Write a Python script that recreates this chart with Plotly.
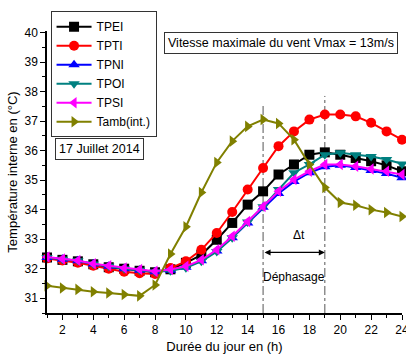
import plotly.graph_objects as go

hours = list(range(1, 25))

TPEI = [32.38, 32.30, 32.25, 32.15, 32.05, 32.00, 31.93, 31.88, 31.98, 32.20, 32.47, 32.98,
        33.55, 34.17, 34.62, 35.19, 35.53, 35.86, 35.94, 35.86, 35.75, 35.64, 35.50, 35.30]
TPTI = [32.35, 32.28, 32.20, 32.10, 32.00, 31.90, 31.85, 31.82, 32.02, 32.25, 32.64, 33.21,
        33.92, 34.68, 35.41, 36.15, 36.65, 37.05, 37.22, 37.22, 37.16, 36.94, 36.65, 36.37]
TPNI = [32.38, 32.32, 32.27, 32.16, 32.08, 32.00, 31.95, 31.90, 31.95, 32.05, 32.27, 32.60,
        33.05, 33.55, 34.08, 34.55, 34.95, 35.25, 35.45, 35.50, 35.43, 35.33, 35.22, 35.08]
TPOI = [32.38, 32.32, 32.27, 32.16, 32.08, 32.00, 31.95, 31.90, 31.93, 32.03, 32.25, 32.58,
        33.05, 33.58, 34.10, 34.68, 35.25, 35.53, 35.86, 35.93, 35.86, 35.80, 35.70, 35.55]
TPSI = [32.40, 32.33, 32.28, 32.17, 32.10, 32.02, 31.97, 31.91, 31.97, 32.08, 32.30, 32.64,
        33.10, 33.60, 34.11, 34.62, 35.02, 35.30, 35.53, 35.53, 35.47, 35.38, 35.30, 35.19]
Tamb = [31.42, 31.35, 31.30, 31.22, 31.18, 31.13, 31.08, 31.45, 32.50, 33.42, 34.58, 35.60,
        36.32, 36.82, 37.05, 36.92, 36.37, 35.53, 34.75, 34.24, 34.15, 34.00, 33.90, 33.77]

series = [
    ("TPEI", TPEI, "#000000", "square"),
    ("TPTI", TPTI, "#ff0000", "circle"),
    ("TPNI", TPNI, "#0000ff", "triangle-up"),
    ("TPOI", TPOI, "#008080", "triangle-down"),
    ("TPSI", TPSI, "#ff00ff", "triangle-left"),
    ("Tamb(int.)", Tamb, "#808000", "triangle-right"),
]

phase_start = 15
phase_end = 19

FONT = "Liberation Sans Narrow, Arial Narrow, Arial, Liberation Sans, sans-serif"

fig = go.Figure()
for name, vals, col, sym in series:
    fig.add_trace(go.Scatter(
        x=hours, y=vals, name=name, mode="lines+markers",
        line=dict(color=col, width=2),
        marker=dict(symbol=sym, size=10, color=col),
        cliponaxis=False,
    ))

for xv, ytop in [(phase_start, 37.6), (phase_end, 37.85)]:
    fig.add_shape(type="line", x0=xv, x1=xv, y0=30.5, y1=ytop, xref="x", yref="y",
                  line=dict(color="#555555", width=1, dash="dashdot"), layer="below")

fig.add_annotation(x=phase_end, y=32.55, ax=phase_start, ay=32.55, xref="x", yref="y",
                   axref="x", ayref="y", showarrow=True, arrowhead=2, arrowside="end+start",
                   arrowsize=1, arrowwidth=1.2, arrowcolor="#000000", text="")
fig.add_annotation(x=(phase_start + phase_end) / 2 + 0.3, y=33.15, text="Δt", showarrow=False,
                   font=dict(size=12, color="#000000"))
fig.add_annotation(x=(phase_start + phase_end) / 2, y=31.72, text="Déphasage", showarrow=False,
                   font=dict(size=12, color="#000000"))

fig.add_annotation(xref="paper", yref="paper", x=0.99, y=0.959, xanchor="right", yanchor="middle",
                   text="Vitesse maximale du vent Vmax = 13m/s", showarrow=False,
                   bordercolor="#333333", borderwidth=1, borderpad=3, bgcolor="white",
                   font=dict(size=12.5, color="#000000"))
fig.add_annotation(xref="paper", yref="paper", x=0.023, y=0.58, xanchor="left", yanchor="middle",
                   text="17 Juillet 2014", showarrow=False,
                   bordercolor="#333333", borderwidth=1, borderpad=3, bgcolor="white",
                   font=dict(size=12.5, color="#000000"))

fig.update_layout(
    width=406, height=356,
    margin=dict(l=47, r=4, t=31, b=43, autoexpand=False),
    paper_bgcolor="white", plot_bgcolor="white",
    font=dict(family=FONT, size=12, color="#000000"),
    showlegend=True,
    legend=dict(x=0.01, y=1.07, xanchor="left", yanchor="top",
                bordercolor="#333333", borderwidth=1, bgcolor="white",
                font=dict(size=12), itemwidth=35, tracegroupgap=0),
    xaxis=dict(range=[1, 24], tickvals=list(range(2, 25, 2)), showline=True, linecolor="black",
               linewidth=1.5, ticks="outside", ticklen=5, tickcolor="black", showgrid=False,
               zeroline=False, automargin=False, ticklabeloverflow="allow",
               minor=dict(tickvals=list(range(1, 25)), ticks="outside", ticklen=3,
                          tickcolor="black"),
               title=dict(text="Durée du jour en (h)", font=dict(size=13), standoff=6),
               tickfont=dict(size=12)),
    yaxis=dict(range=[30.5, 40.05], tickvals=list(range(31, 41)), showline=True, linecolor="black",
               linewidth=1.5, ticks="outside", ticklen=5, tickcolor="black", showgrid=False,
               zeroline=False, automargin=False,
               minor=dict(tickvals=[30.5 + i for i in range(10)], ticks="outside",
                          ticklen=3, tickcolor="black"),
               title=dict(text="Température interne en (°C)", font=dict(size=13), standoff=4),
               tickfont=dict(size=12)),
)

fig.write_html("out.html", config={"displayModeBar": False})
with open("out.html", "r", encoding="utf-8") as f:
    html = f.read()
html = html.replace("<head>", "<head><style>html,body{margin:0;padding:0;overflow:hidden;}</style>", 1)
with open("out.html", "w", encoding="utf-8") as f:
    f.write(html)
